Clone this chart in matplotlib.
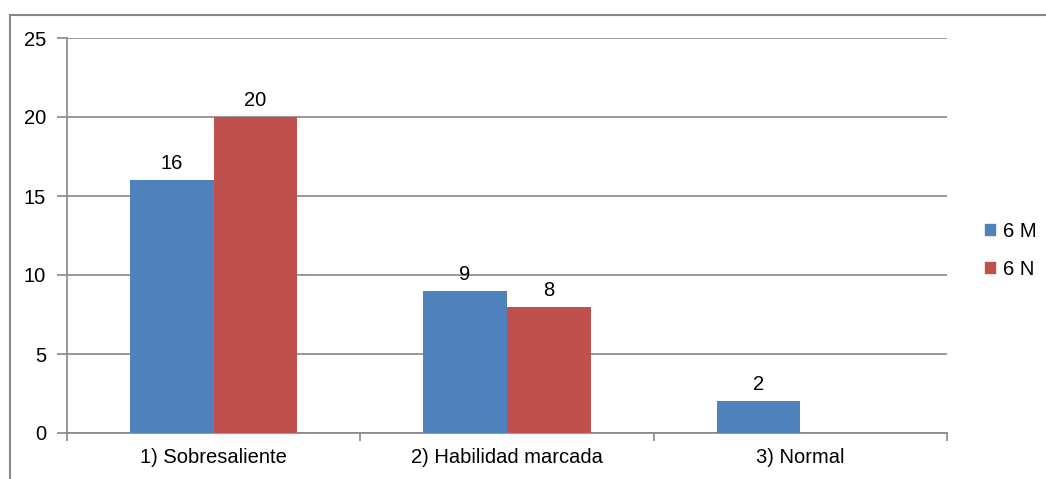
import numpy as np
import matplotlib
matplotlib.use("Agg")
import matplotlib.pyplot as plt
from matplotlib.patches import Rectangle, Patch

categorias = ["1) Sobresaliente", "2) Habilidad marcada", "3) Normal"]
serie_m = [16, 9, 2]
serie_n = [20, 8, 0]
nombres = ["6 M", "6 N"]
colores = ["#4F81BD", "#C0504D"]

plt.rcParams["font.family"] = ["Liberation Sans", "DejaVu Sans"]
gris = "#888888"
fs = 14.5

fig = plt.figure(figsize=(10.46, 4.79), dpi=100)
ax = fig.add_axes([67 / 1046, 1 - 433 / 479, 880 / 1046, 395 / 479])

# marco exterior
fig.add_artist(Rectangle((10 / 1046, -0.2), 2, 1.2 - 15 / 479, transform=fig.transFigure,
                         fill=False, edgecolor=gris, lw=1.5))

x = np.arange(len(categorias))
ancho = 1 / 3.5
b1 = ax.bar(x - ancho / 2, serie_m, ancho, color=colores[0], zorder=3)
b2 = ax.bar(x + ancho / 2, serie_n, ancho, color=colores[1], zorder=3)

for barras in (b1, b2):
    for b in barras:
        h = b.get_height()
        if h > 0:
            ax.annotate(str(int(h)), (b.get_x() + b.get_width() / 2, h),
                        xytext=(0, 5), textcoords="offset points",
                        ha="center", va="bottom", fontsize=fs)

ax.set_xlim(-0.5, 2.5)
ax.set_ylim(0, 25)
ax.set_yticks(range(0, 26, 5))
ax.yaxis.grid(True, color=gris, lw=1.2, zorder=0)
ax.set_axisbelow(True)

ax.set_xticks(x)
ax.set_xticklabels(categorias)
ax.set_xticks([-0.5, 0.5, 1.5, 2.5], minor=True)
ax.tick_params(axis="x", which="major", length=0, pad=11, labelsize=fs)
ax.tick_params(axis="x", which="minor", length=6, color=gris, width=1.2)
ax.tick_params(axis="y", length=7, color=gris, width=1.2, pad=8, labelsize=fs)

for s in ["top", "right"]:
    ax.spines[s].set_visible(False)
for s in ["left", "bottom"]:
    ax.spines[s].set_color(gris)
    ax.spines[s].set_linewidth(1.2)

handles = [Patch(color=c, label=n) for c, n in zip(colores, nombres)]
ax.legend(handles=handles, loc="center left", bbox_to_anchor=(1.043, 0.463),
          frameon=False, fontsize=fs, handlelength=0.5, handleheight=0.5,
          handletextpad=0.4, labelspacing=0.95, borderpad=0, borderaxespad=0)

fig.savefig("out.png", dpi=100)
